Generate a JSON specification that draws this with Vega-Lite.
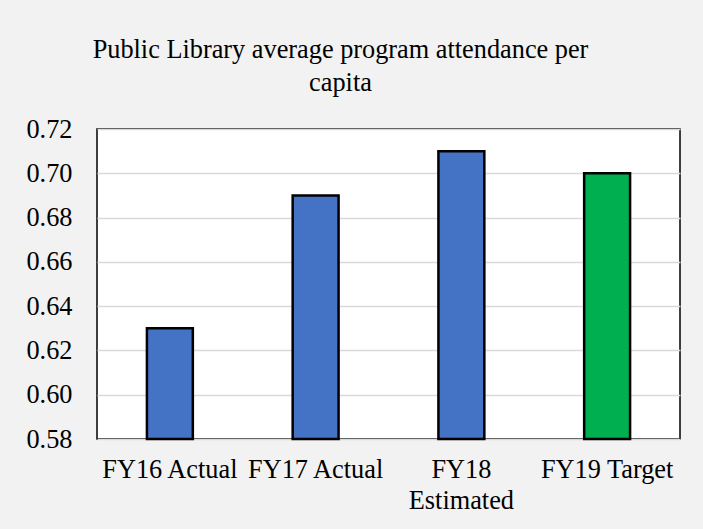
{
  "$schema": "https://vega.github.io/schema/vega-lite/v6.json",
  "autosize": "none",
  "width": 583,
  "height": 310,
  "padding": {"left": 97, "top": 129, "right": 23, "bottom": 90},
  "background": "#f2f2f2",
  "title": {
    "text": ["Public Library average program attendance per", "capita"],
    "anchor": "middle",
    "frame": "group",
    "dx": -48,
    "lineHeight": 33,
    "offset": 20
  },
  "data": {
    "values": [
      {"period": "FY16 Actual", "value": 0.63, "kind": "actual"},
      {"period": "FY17 Actual", "value": 0.69, "kind": "actual"},
      {"period": "FY18 Estimated", "value": 0.71, "kind": "actual"},
      {"period": "FY19 Target", "value": 0.70, "kind": "target"}
    ]
  },
  "mark": {"type": "bar", "width": {"band": 0.315}, "stroke": "#000000", "strokeWidth": 2.5},
  "encoding": {
    "x": {
      "field": "period",
      "type": "nominal",
      "sort": null,
      "scale": {"paddingInner": 0, "paddingOuter": 0},
      "axis": {
        "title": null,
        "labelAngle": 0,
        "labelPadding": 17,
        "labelLineHeight": 31,
        "labelExpr": "datum.value == 'FY18 Estimated' ? ['FY18', 'Estimated'] : datum.value",
        "labelLimit": 400,
        "ticks": false,
        "domain": false,
        "grid": false
      }
    },
    "y": {
      "field": "value",
      "type": "quantitative",
      "scale": {"domain": [0.58, 0.72], "zero": false, "nice": false},
      "axis": {
        "title": null,
        "values": [0.58, 0.6, 0.62, 0.64, 0.66, 0.68, 0.7, 0.72],
        "format": ".2f",
        "labelPadding": 25,
        "ticks": false,
        "domain": false,
        "grid": true,
        "gridColor": "#d9d9d9",
        "gridWidth": 1.5
      }
    },
    "y2": {"datum": 0.58},
    "color": {
      "field": "kind",
      "type": "nominal",
      "scale": {"domain": ["actual", "target"], "range": ["#4472c4", "#00b050"]},
      "legend": null
    }
  },
  "config": {
    "font": "Liberation Serif, serif",
    "title": {"fontSize": 26.3, "fontWeight": "normal", "color": "#000000"},
    "axis": {"labelFont": "Liberation Serif, serif", "labelFontSize": 26.3, "labelColor": "#000000"},
    "view": {"fill": "#ffffff", "stroke": "#000000", "strokeWidth": 1.5}
  }
}
